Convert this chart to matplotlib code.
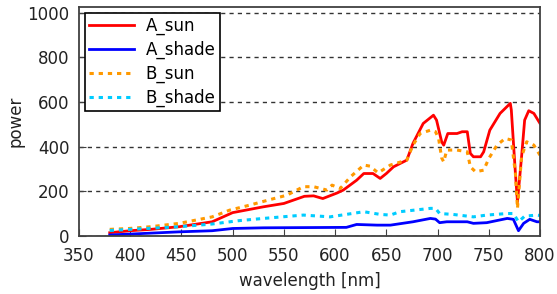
import matplotlib.pyplot as plt

# A_sun
wl_a_sun = [380, 400, 420, 448, 480, 500, 530, 550, 570, 579, 588, 602, 608, 621, 628,
            637, 644, 650, 657, 670, 676, 686, 696, 699, 704, 706, 710, 719, 724, 729,
            732, 735, 742, 745, 751, 761, 771, 772, 776, 778, 782, 785, 789, 794, 800]
a_sun = [15, 24, 30, 42, 64, 105, 131, 146, 178, 180, 168, 193, 206, 250, 280,
         280, 258, 280, 310, 340, 415, 504, 541, 519, 422, 407, 459, 459, 467, 467,
         370, 355, 355, 377, 474, 549, 594, 564, 280, 153, 355, 519, 561, 549, 504]

# A_shade
wl_a_shade = [380, 400, 448, 480, 500, 530, 611, 621, 641, 654, 676, 693, 698, 702, 709,
              729, 735, 748, 768, 774, 779, 784, 790, 797, 800]
a_shade = [5, 9, 19, 24, 34, 37, 39, 52, 49, 49, 64, 79, 76, 60, 64,
           64, 57, 60, 79, 75, 24, 57, 75, 64, 64]

# B_sun
wl_b_sun = [380, 399, 420, 448, 480, 497, 517, 537, 553, 569, 579, 592, 597, 605, 615,
            628, 634, 642, 654, 670, 676, 683, 693, 698, 701, 704, 706, 709, 719, 729,
            732, 737, 745, 750, 758, 766, 772, 776, 778, 782, 787, 794, 800]
b_sun = [30, 34, 42, 57, 86, 116, 139, 164, 183, 221, 221, 206, 228, 213, 265,
         318, 313, 283, 318, 340, 407, 459, 474, 467, 437, 350, 332, 385, 385, 377,
         310, 288, 295, 347, 407, 437, 430, 280, 124, 355, 422, 407, 362]

# B_shade
wl_b_shade = [380, 400, 448, 480, 506, 530, 569, 595, 628, 644, 654, 663, 693, 698, 702,
              715, 735, 748, 768, 774, 779, 785, 797, 800]
b_shade = [25, 30, 42, 54, 69, 79, 94, 86, 109, 97, 94, 109, 124, 124, 101,
           97, 86, 94, 101, 101, 64, 89, 94, 92]

plt.rcParams['font.family'] = ['DejaVu Sans']

fig = plt.figure(figsize=(5.57, 2.94), dpi=100)
ax = fig.add_axes([0.1418, 0.197, 0.8277, 0.779])

ax.plot(wl_a_sun, a_sun, color="#ff0000", lw=2, label="A_sun")
ax.plot(wl_a_shade, a_shade, color="#0000ff", lw=2, label="A_shade")
ax.plot(wl_b_sun, b_sun, color="#ff9900", lw=2.2, linestyle=(0, (1.4, 1.6)), label="B_sun")
ax.plot(wl_b_shade, b_shade, color="#00ccff", lw=2.2, linestyle=(0, (1.4, 1.6)), label="B_shade")

ax.set_xlim(350, 800)
ax.set_ylim(0, 1025)
ax.set_xticks(range(350, 801, 50))
ax.set_yticks(range(0, 1001, 200))
ax.tick_params(direction="in", labelsize=12, length=5, color="#404040", labelcolor="#222222")
ax.tick_params(axis="x", pad=8)
ax.tick_params(axis="y", pad=7)
ax.grid(axis="y", linestyle=(0, (3, 3)), color="#333333", lw=1)
for s in ax.spines.values():
    s.set_color("#404040")
    s.set_linewidth(1.3)

ax.set_xlabel("wavelength [nm]", fontsize=12, labelpad=5, color="#222222")
ax.set_ylabel("power", fontsize=12, labelpad=2, color="#222222")

leg = ax.legend(loc="upper left", fontsize=12, fancybox=False, framealpha=1,
                edgecolor="black", handlelength=2.7, borderaxespad=0.35,
                borderpad=0.25, labelspacing=0.33, handletextpad=0.7)
leg.get_frame().set_linewidth(1.2)

plt.savefig("out.png", dpi=100)
